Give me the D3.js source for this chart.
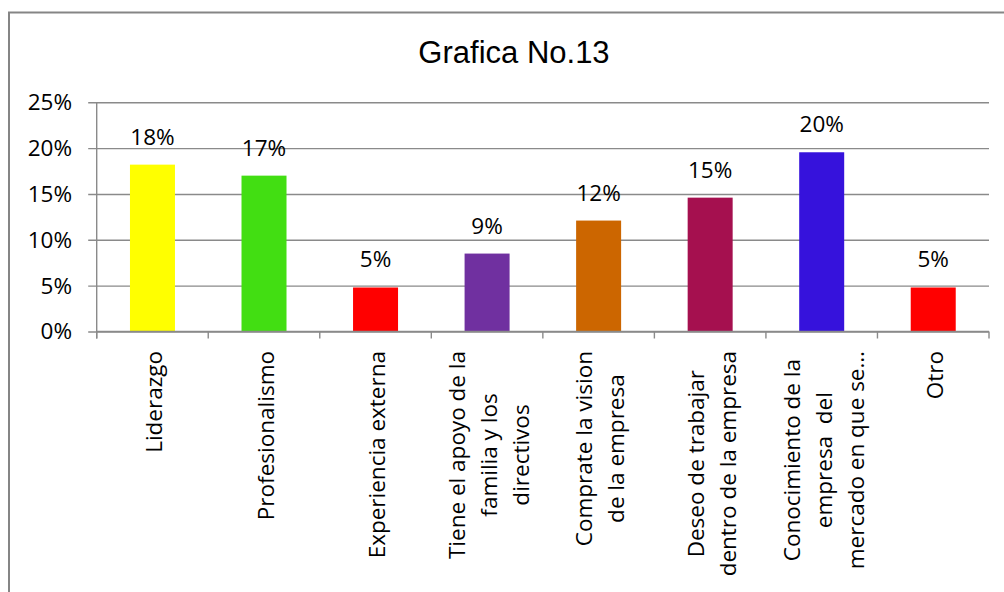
<!DOCTYPE html>
<html>
<head>
<meta charset="utf-8">
<script src="https://cdn.jsdelivr.net/npm/d3@7"></script>
<style>
  html, body { margin: 0; padding: 0; background: #fff; }
  svg { display: block; }
  text { white-space: pre; }
</style>
</head>
<body>
<svg id="chart" width="1004" height="592"></svg>
<script>
// Chart content
const chartTitle = "Grafica No.13";
const categories = [
  "Liderazgo",
  "Profesionalismo",
  "Experiencia externa",
  "Tiene el apoyo de la familia y los directivos",
  "Comprate la vision de la empresa",
  "Deseo de trabajar dentro de la empresa",
  "Conocimiento de la empresa del mercado en que se…",
  "Otro"
];
// Wrapped lines for each category label
const categoryLines = [
  ["Liderazgo"],
  ["Profesionalismo"],
  ["Experiencia externa"],
  ["Tiene el apoyo de la", "familia y los", "directivos"],
  ["Comprate la vision", "de la empresa"],
  ["Deseo de trabajar", "dentro de la empresa"],
  ["Conocimiento de la", "empresa  del", "mercado en que se…"],
  ["Otro"]
];
const values = [0.182, 0.170, 0.048, 0.085, 0.121, 0.146, 0.1955, 0.048];
const barColors = ["#FFFF00", "#42DE12", "#FF0000", "#7030A0", "#CC6600", "#A5104F", "#3612DC", "#FF0000"];
const yTicks = [0, 0.05, 0.10, 0.15, 0.20, 0.25];
const yTickLabels = ["0%", "5%", "10%", "15%", "20%", "25%"];

const svg = d3.select("#chart");
const labelFont = "'Open Sans', 'Noto Sans', sans-serif";
const gridColor = "#8a8a8a";

// Outer frame (top and left edges visible)
svg.append("path")
  .attr("d", "M9,600 L9,12.5 L1010,12.5")
  .attr("fill", "none")
  .attr("stroke", "#858585")
  .attr("stroke-width", 2);

// Title
svg.append("text")
  .attr("x", 514)
  .attr("y", 62.5)
  .attr("text-anchor", "middle")
  .attr("font-family", "'Liberation Sans', Arial, sans-serif")
  .attr("font-size", 31)
  .attr("fill", "#000")
  .text(chartTitle);

const plotLeft = 96.7, plotRight = 989;
const x = d3.scaleBand().domain(categories).range([plotLeft, plotRight]).padding(0);
const y = d3.scaleLinear().domain([0, 0.25]).range([331.5, 102.3]);

// Horizontal gridlines (extending slightly left of the axis as outer ticks)
const grid = svg.append("g")
  .attr("transform", `translate(${plotLeft - 8.5},0)`)
  .call(d3.axisRight(y).tickValues(yTicks).tickSize(plotRight - plotLeft + 8.5).tickFormat(""));
grid.select(".domain").remove();
grid.selectAll(".tick line").attr("stroke", gridColor).attr("stroke-width", 1.4);

// Y axis line and tick labels
svg.append("line")
  .attr("x1", plotLeft).attr("x2", plotLeft)
  .attr("y1", y(0.25)).attr("y2", y(0) + 7)
  .attr("stroke", gridColor).attr("stroke-width", 1.4);

svg.append("g").selectAll("text")
  .data(yTicks)
  .join("text")
  .attr("x", 72)
  .attr("y", d => y(d))
  .attr("dy", "0.35em")
  .attr("text-anchor", "end")
  .attr("font-family", labelFont)
  .attr("font-size", 22.5)
  .attr("fill", "#000")
  .text((d, i) => yTickLabels[i]);

// Bars
const barW = 45;
svg.append("g").selectAll("rect")
  .data(values)
  .join("rect")
  .attr("x", (d, i) => x(categories[i]) + x.bandwidth() / 2 - barW / 2)
  .attr("y", d => y(d))
  .attr("width", barW)
  .attr("height", d => y(0) - y(d))
  .attr("fill", (d, i) => barColors[i]);

// X axis baseline and category separator ticks
svg.append("line")
  .attr("x1", plotLeft).attr("x2", plotRight)
  .attr("y1", y(0)).attr("y2", y(0))
  .attr("stroke", gridColor).attr("stroke-width", 1.4);

const boundaries = categories.map(c => x(c)).concat([x.range()[1]]);
svg.append("g").selectAll("line")
  .data(boundaries)
  .join("line")
  .attr("x1", d => d).attr("x2", d => d)
  .attr("y1", y(0)).attr("y2", y(0) + 7)
  .attr("stroke", gridColor).attr("stroke-width", 1.4);

// Value labels above bars
svg.append("g").selectAll("text")
  .data(values)
  .join("text")
  .attr("x", (d, i) => x(categories[i]) + x.bandwidth() / 2)
  .attr("y", d => y(d) - 20)
  .attr("text-anchor", "middle")
  .attr("font-family", labelFont)
  .attr("font-size", 22.5)
  .attr("fill", "#000")
  .text(d => Math.round(d * 100) + "%");

// Rotated category labels, lines centred on each other
const lineGap = 32;
const labelTop = 351;
categoryLines.forEach((lines, i) => {
  const cx = x(categories[i]) + x.bandwidth() / 2 + 2;
  const g = svg.append("g");
  const texts = g.selectAll("text")
    .data(lines)
    .join("text")
    .attr("text-anchor", "middle")
    .attr("font-family", labelFont)
    .attr("font-size", 22.5)
    .attr("fill", "#000")
    .text(d => d);
  let maxW = 0;
  texts.each(function () { maxW = Math.max(maxW, this.getComputedTextLength()); });
  const cy = labelTop + maxW / 2;
  const n = lines.length;
  texts.attr("transform", (d, j) => {
    const lx = cx + (j - (n - 1) / 2) * lineGap;
    return `translate(${lx},${cy}) rotate(-90)`;
  }).attr("dy", "0.35em");
});
</script>
</body>
</html>
